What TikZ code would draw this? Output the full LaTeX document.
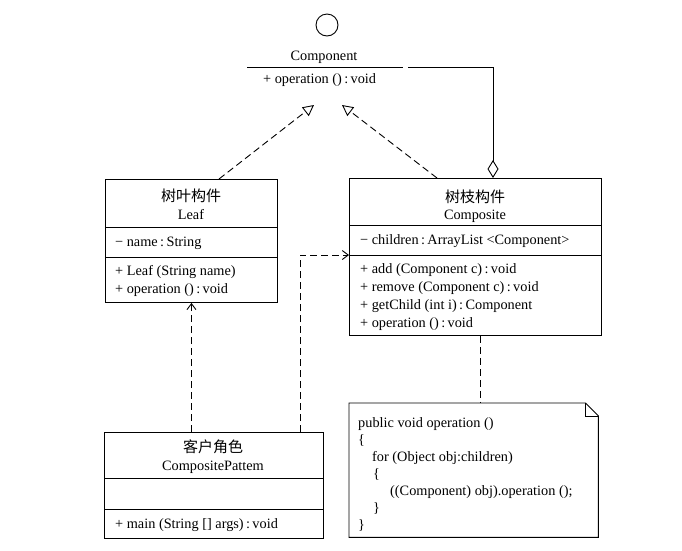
\documentclass[tikz,border=0pt]{standalone}
\usepackage{fontspec}
\setmainfont{Liberation Serif}
\newfontfamily\cjk{Noto Sans CJK SC}
\usetikzlibrary{arrows.meta,calc}
\newcommand{\umlcol}{\,:\,}
\begin{document}
\begin{tikzpicture}[x=1pt,y=-1pt,
  box/.style={draw, line width=0.9pt, inner sep=0pt, anchor=north west},
  txt/.style={inner sep=0pt, anchor=base west, font=\fontsize{14.3}{18}\selectfont},
  ctxt/.style={inner sep=0pt, anchor=base, font=\fontsize{14.3}{18}\selectfont},
  cjktxt/.style={inner sep=0pt, anchor=base, font=\cjk\fontsize{15}{18}\selectfont},
  ln/.style={line width=0.9pt},
  realize/.style={line width=0.9pt, dash pattern=on 7pt off 4pt, -{Triangle[open,length=11pt,width=11pt]}},
  dep/.style={line width=0.9pt, dash pattern=on 7pt off 4pt, -{Straight Barb[length=6pt,width=9pt]}},
  agg/.style={line width=0.9pt, -{Diamond[open,length=18pt,width=11pt]}},
  notelink/.style={line width=0.9pt, dash pattern=on 7pt off 4pt},
  ]
\useasboundingbox (0,0) rectangle (682,550);

% Interface Component
\node[draw, circle, line width=0.9pt, minimum size=22pt, inner sep=0pt] (iface) at (327,25) {};
\node[ctxt] (ifname) at (324,60) {Component};
\coordinate (hl) at (247,67);
\coordinate (hr) at (403,67);
\draw[ln] (hl) -- (hr);
\node[txt] (ifop) at (263,83) {+ operation ()\umlcol void};
\coordinate (ta) at (314,105);
\coordinate (tb) at (342,105);
\coordinate (aggstart) at (408,67);

% Leaf
\node[box, minimum width=172pt, minimum height=123pt] (leaf) at (105,179) {};
\draw[ln] (105,227) -- (277,227);
\draw[ln] (105,257) -- (277,257);
\node[cjktxt] (leafcn) at (191,201) {树叶构件};
\node[ctxt] (leafen) at (191,219) {Leaf};
\node[txt] (leafa) at (115,246) {\textminus\ name\umlcol String};
\node[txt] (leafm1) at (115,275) {+ Leaf (String name)};
\node[txt] (leafm2) at (115,293) {+ operation ()\umlcol void};

% Composite
\node[box, minimum width=252pt, minimum height=157pt] (comp) at (349,178) {};
\draw[ln] (349,225) -- (601,225);
\draw[ln] (349,255) -- (601,255);
\node[cjktxt] (compcn) at (475,202) {树枝构件};
\node[ctxt] (compen) at (475,219) {Composite};
\node[txt] (compa) at (360,244) {\textminus\ children\umlcol ArrayList <Component>};
\node[txt] (compm1) at (360,273) {+ add (Component c)\umlcol void};
\node[txt] (compm2) at (360,291) {+ remove (Component c)\umlcol void};
\node[txt] (compm3) at (360,309) {+ getChild (int i)\umlcol Component};
\node[txt] (compm4) at (360,327) {+ operation ()\umlcol void};

% Client
\node[box, minimum width=219pt, minimum height=106pt] (client) at (104,432) {};
\draw[ln] (104,478) -- (323,478);
\draw[ln] (104,509) -- (323,509);
\node[cjktxt] (clientcn) at (213,452) {客户角色};
\node[ctxt] (clienten) at (213,470) {CompositePattem};
\node[txt] (clientm) at (115,528) {+ main (String [] args)\umlcol void};

% Note
\node[inner sep=0pt, minimum width=249pt, minimum height=134pt, anchor=north west] (note) at (349,403) {};
\draw[ln] (note.north west) -- ([xshift=-13pt]note.north east) -- ([yshift=-13pt]note.north east) -- (note.south east) -- (note.south west) -- cycle;
\draw[ln] ([xshift=-13pt]note.north east) -- ([xshift=-13pt,yshift=-13pt]note.north east) -- ([yshift=-13pt]note.north east);
\node[txt] (n1) at (358,427) {public void operation ()};
\node[txt] (n2) at (358,444) {\{};
\node[txt] (n3) at (372,461) {for (Object obj:children)};
\node[txt] (n4) at (373,478) {\{};
\node[txt] (n5) at (390,495) {((Component) obj).operation ();};
\node[txt] (n6) at (373,512) {\}};
\node[txt] (n7) at (358,529) {\}};

% Connectors
\draw[realize] (leaf.north -| 219,0) -- (ta);
\draw[realize] (comp.north -| 437,0) -- (tb);
\draw[agg] (aggstart) -| (comp.north -| 493,0);
\draw[dep] (leaf.south |- client.north) -- (leaf.south);
\draw[dep] (client.north -| 300,0) |- (comp.west |- 0,255);
\draw[notelink] (comp.south -| 480,0) -- (note.north -| 480,0);
\end{tikzpicture}
\end{document}
